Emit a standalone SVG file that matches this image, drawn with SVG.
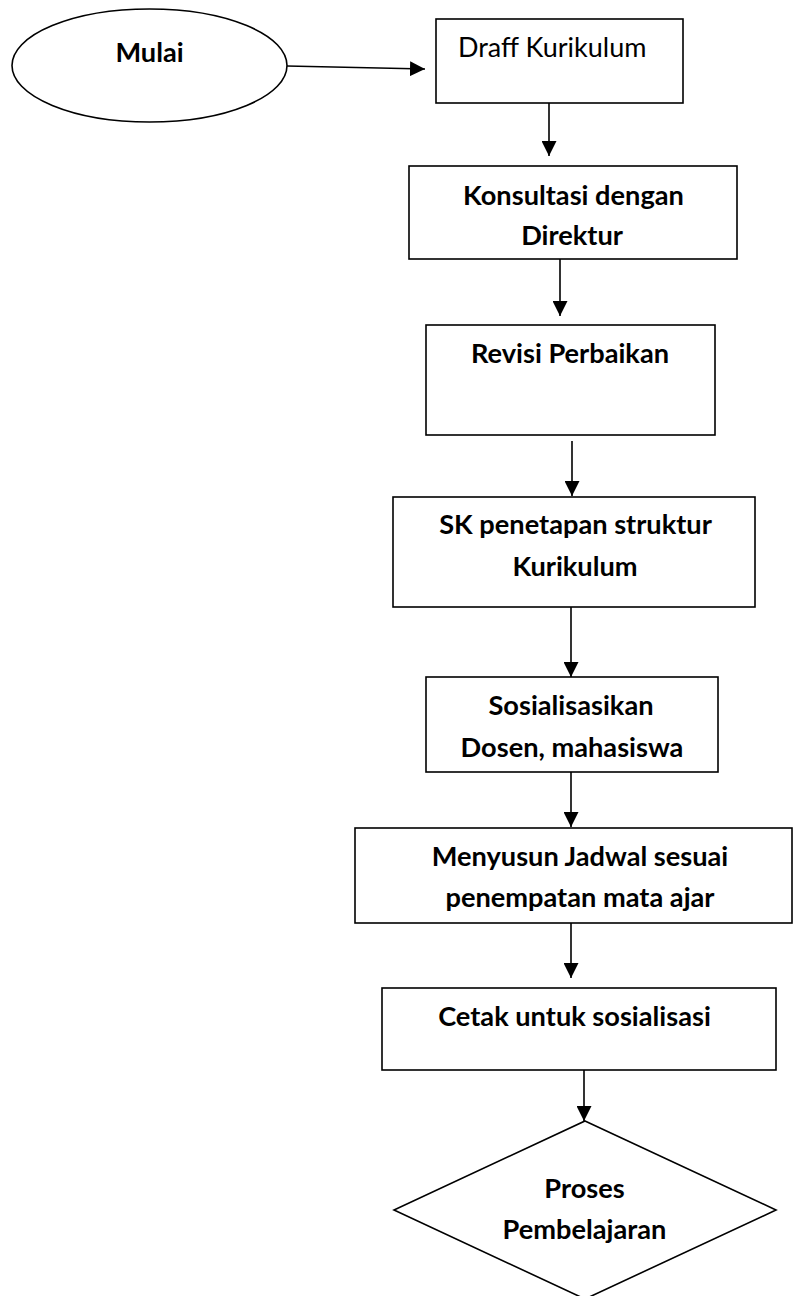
<svg xmlns="http://www.w3.org/2000/svg" width="795" height="1296" viewBox="0 0 795 1296">
<style>
.shape{fill:#fff;stroke:#000;stroke-width:1.6}
.conn{stroke:#000;stroke-width:1.6;fill:none}
.b{font-family:Lato,"Liberation Sans",sans-serif;font-weight:bold;font-size:27.2px;fill:#000;text-anchor:middle}
.r{font-family:Lato,"Liberation Sans",sans-serif;font-size:27px;fill:#000}
</style>
<defs>
<marker id="ah" markerUnits="userSpaceOnUse" markerWidth="15" markerHeight="15" refX="15" refY="7.5" orient="auto">
<path d="M0,0 L15,7.5 L0,15 z" fill="#000"/>
</marker>
</defs>
<rect width="795" height="1296" fill="#fff"/>
<g id="connectors">
<line class="conn" x1="287" y1="66" x2="425" y2="69" marker-end="url(#ah)"/>
<line class="conn" x1="549" y1="103" x2="549" y2="156" marker-end="url(#ah)"/>
<line class="conn" x1="560" y1="259" x2="560" y2="316" marker-end="url(#ah)"/>
<line class="conn" x1="572" y1="441" x2="572" y2="496" marker-end="url(#ah)"/>
<line class="conn" x1="571" y1="607" x2="571" y2="677" marker-end="url(#ah)"/>
<line class="conn" x1="571" y1="772" x2="571" y2="827" marker-end="url(#ah)"/>
<line class="conn" x1="571" y1="923" x2="571" y2="978" marker-end="url(#ah)"/>
<line class="conn" x1="584" y1="1070" x2="584" y2="1121" marker-end="url(#ah)"/>
</g>
<g id="mulai">
<ellipse class="shape" cx="149.5" cy="65.5" rx="137.5" ry="56.5"/>
<text class="b" x="149.5" y="62">Mulai</text>
</g>
<g id="draff">
<rect class="shape" x="436" y="19" width="247" height="84"/>
<text class="r" x="458" y="57">Draff Kurikulum</text>
</g>
<g id="konsultasi">
<rect class="shape" x="409" y="166" width="328" height="93"/>
<text class="b" x="573.5" y="205">Konsultasi dengan</text>
<text class="b" x="572" y="245">Direktur</text>
</g>
<g id="revisi">
<rect class="shape" x="426" y="325" width="289" height="110"/>
<text class="b" x="570" y="363">Revisi Perbaikan</text>
</g>
<g id="sk">
<rect class="shape" x="393" y="497" width="362" height="110"/>
<text class="b" x="575.5" y="534">SK penetapan struktur</text>
<text class="b" x="575" y="576">Kurikulum</text>
</g>
<g id="sosialisasi">
<rect class="shape" x="426" y="677" width="292" height="95"/>
<text class="b" x="571" y="715">Sosialisasikan</text>
<text class="b" x="572" y="757">Dosen, mahasiswa</text>
</g>
<g id="menyusun">
<rect class="shape" x="355" y="828" width="437" height="95"/>
<text class="b" x="580" y="866">Menyusun Jadwal sesuai</text>
<text class="b" x="580" y="907">penempatan mata ajar</text>
</g>
<g id="cetak">
<rect class="shape" x="382" y="988" width="394" height="82"/>
<text class="b" x="574.5" y="1026">Cetak untuk sosialisasi</text>
</g>
<g id="proses">
<polygon class="shape" points="585,1121 776,1210 585,1299 394,1210"/>
<text class="b" x="584.5" y="1198">Proses</text>
<text class="b" x="584.5" y="1239">Pembelajaran</text>
</g>
</svg>
